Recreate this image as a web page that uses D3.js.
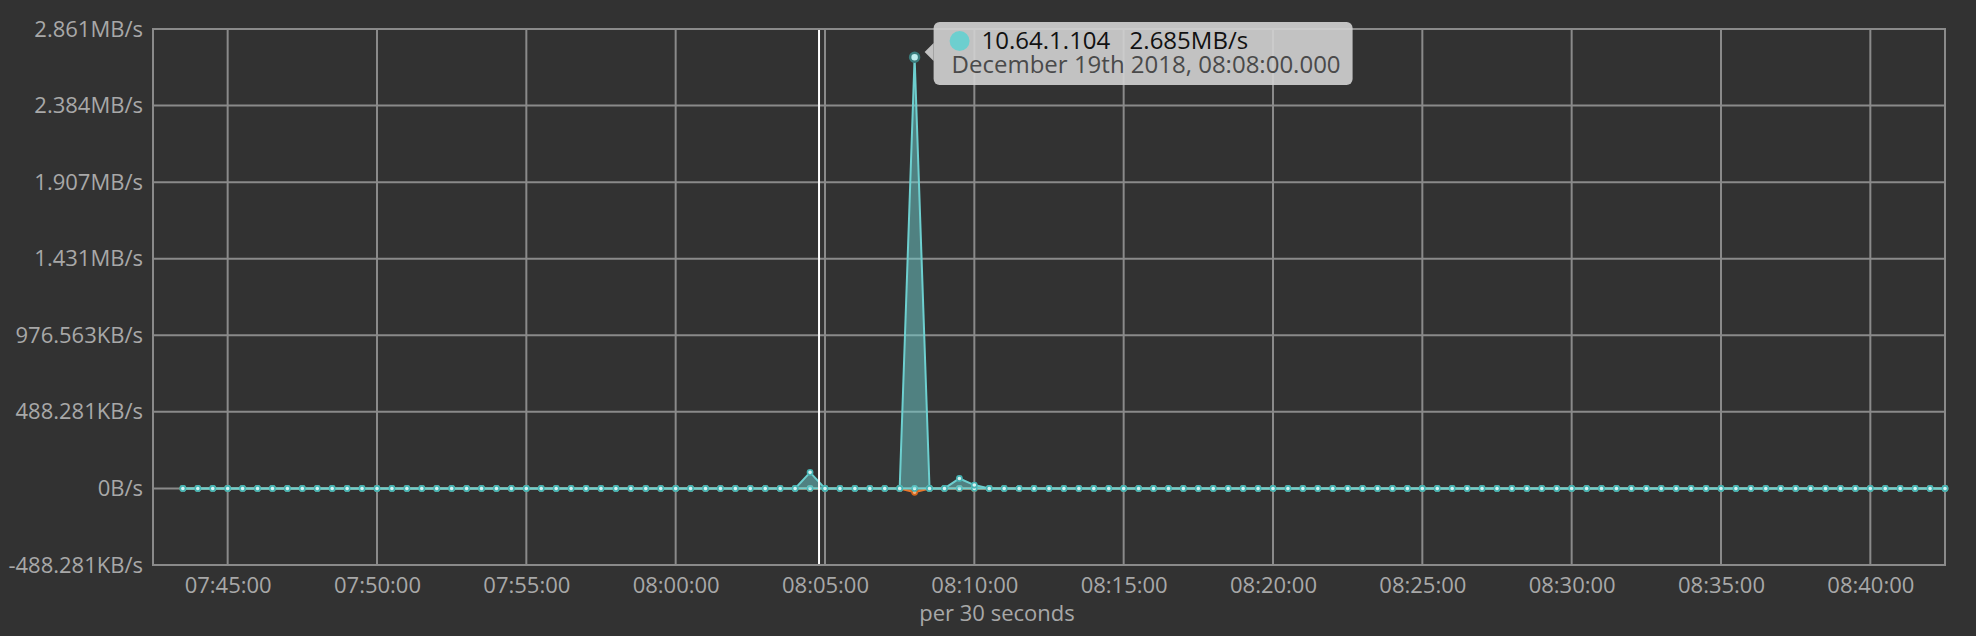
<!DOCTYPE html>
<html>
<head>
<meta charset="utf-8">
<script src="https://cdn.jsdelivr.net/npm/d3@7"></script>
<style>
  html, body { margin: 0; padding: 0; background: #323232; }
  svg { display: block; }
  text { font-family: "Open Sans", sans-serif; }
</style>
</head>
<body>
<div id="chart"></div>
<script>
// Data: one value every 30 seconds, 07:43:30 -> 08:42:30 (bytes per second)
var startTime = "2018-12-19T07:43:30Z";
var endTime = "2018-12-19T08:43:00Z";
var domainTimes = ["2018-12-19T07:42:30Z", "2018-12-19T08:42:30Z"];

var hostName = "10.64.1.104";
var hostValues = [
  0, 0, 0, 0, 0, 0, 0, 0, 0, 0,
  0, 0, 0, 0, 0, 0, 0, 0, 0, 0,
  0, 0, 0, 0, 0, 0, 0, 0, 0, 0,
  0, 0, 0, 0, 0, 0, 0, 0, 0, 0,
  0, 0, 105000, 0, 0, 0, 0, 0, 0, 2815426,
  0, 0, 65000, 22000, 0, 0, 0, 0, 0, 0,
  0, 0, 0, 0, 0, 0, 0, 0, 0, 0,
  0, 0, 0, 0, 0, 0, 0, 0, 0, 0,
  0, 0, 0, 0, 0, 0, 0, 0, 0, 0,
  0, 0, 0, 0, 0, 0, 0, 0, 0, 0,
  0, 0, 0, 0, 0, 0, 0, 0, 0, 0,
  0, 0, 0, 0, 0, 0, 0, 0, 0
];
// second series (same colour, flat)
var baseValues = [
  0, 0, 0, 0, 0, 0, 0, 0, 0, 0,
  0, 0, 0, 0, 0, 0, 0, 0, 0, 0,
  0, 0, 0, 0, 0, 0, 0, 0, 0, 0,
  0, 0, 0, 0, 0, 0, 0, 0, 0, 0,
  0, 0, 0, 0, 0, 0, 0, 0, 0, 0,
  0, 0, 0, 0, 0, 0, 0, 0, 0, 0,
  0, 0, 0, 0, 0, 0, 0, 0, 0, 0,
  0, 0, 0, 0, 0, 0, 0, 0, 0, 0,
  0, 0, 0, 0, 0, 0, 0, 0, 0, 0,
  0, 0, 0, 0, 0, 0, 0, 0, 0, 0,
  0, 0, 0, 0, 0, 0, 0, 0, 0, 0,
  0, 0, 0, 0, 0, 0, 0, 0, 0
];
// orange series, small dip at 08:08
var outValues = [
  0, 0, 0, 0, 0, 0, 0, 0, 0, 0,
  0, 0, 0, 0, 0, 0, 0, 0, 0, 0,
  0, 0, 0, 0, 0, 0, 0, 0, 0, 0,
  0, 0, 0, 0, 0, 0, 0, 0, 0, 0,
  0, 0, 0, 0, 0, 0, 0, 0, 0, -25000,
  0, 0, 0, 0, 0, 0, 0, 0, 0, 0,
  0, 0, 0, 0, 0, 0, 0, 0, 0, 0,
  0, 0, 0, 0, 0, 0, 0, 0, 0, 0,
  0, 0, 0, 0, 0, 0, 0, 0, 0, 0,
  0, 0, 0, 0, 0, 0, 0, 0, 0, 0,
  0, 0, 0, 0, 0, 0, 0, 0, 0, 0,
  0, 0, 0, 0, 0, 0, 0, 0, 0
];

var yTicks = [-500000, 0, 500000, 1000000, 1500000, 2000000, 2500000, 3000000];
var xTickLabels = ["07:45:00", "07:50:00", "07:55:00", "08:00:00", "08:05:00", "08:10:00",
  "08:15:00", "08:20:00", "08:25:00", "08:30:00", "08:35:00", "08:40:00"];

var hoverIndex = 49;
var hoverLabel = "December 19th 2018, 08:08:00.000";
var cursorTime = "2018-12-19T08:04:48Z";

// sizes
var svgWidth = 1976;
var svgHeight = 636;
var margin = { top: 29, right: 31, bottom: 71, left: 153 };
var width = svgWidth - margin.left - margin.right;
var height = svgHeight - margin.top - margin.bottom;

var gridColor = "#8a8a8a";
var textColor = "#a8a8a8";
var cyan = "#6dcfcf";
var orange = "#e8762b";

var times = d3.utcSecond.every(30).range(new Date(startTime), new Date(endTime));

function fmtBytes(v) {
  var a = Math.abs(v);
  var n, unit;
  if (a >= 1048576) { n = v / 1048576; unit = "MB/s"; }
  else if (a >= 1024) { n = v / 1024; unit = "KB/s"; }
  else { n = v; unit = "B/s"; }
  return (+n.toFixed(3)) + unit;
}

var svg = d3.select("#chart")
  .append("svg")
  .attr("width", svgWidth)
  .attr("height", svgHeight);

var chartGroup = svg.append("g")
  .attr("transform", `translate(${margin.left}, ${margin.top})`);

var x = d3.scaleUtc()
  .domain(domainTimes.map(function(d) { return new Date(d); }))
  .range([0, width]);

var y = d3.scaleLinear()
  .domain([-500000, 3000000])
  .range([height, 0]);

var parseTick = d3.utcParse("%Y-%m-%d %H:%M:%S");
var xTicks = xTickLabels.map(function(t) { return parseTick("2018-12-19 " + t); });

// grid
chartGroup.append("g")
  .selectAll("line.h")
  .data(yTicks)
  .enter()
  .append("line")
  .attr("x1", 0)
  .attr("x2", width)
  .attr("y1", d => y(d))
  .attr("y2", d => y(d))
  .attr("stroke", gridColor)
  .attr("stroke-width", 2);

chartGroup.append("g")
  .selectAll("line.v")
  .data(xTicks)
  .enter()
  .append("line")
  .attr("x1", d => x(d))
  .attr("x2", d => x(d))
  .attr("y1", 0)
  .attr("y2", height)
  .attr("stroke", gridColor)
  .attr("stroke-width", 2);

chartGroup.append("rect")
  .attr("width", width)
  .attr("height", height)
  .attr("fill", "none")
  .attr("stroke", gridColor)
  .attr("stroke-width", 2);

// axes
var leftAxis = d3.axisLeft(y).tickValues(yTicks).tickFormat(fmtBytes).tickSize(0).tickPadding(10);
var bottomAxis = d3.axisBottom(x).tickValues(xTicks).tickFormat(d3.utcFormat("%H:%M:%S")).tickSize(0).tickPadding(12);

var yAxisG = chartGroup.append("g").call(leftAxis);
var xAxisG = chartGroup.append("g")
  .attr("transform", `translate(0, ${height})`)
  .call(bottomAxis);

[yAxisG, xAxisG].forEach(function(g) {
  g.select(".domain").remove();
  g.selectAll("text")
    .attr("fill", textColor)
    .style("font-size", "22px")
    .style("font-family", "'Open Sans', sans-serif");
});

chartGroup.append("text")
  .attr("x", 997 - margin.left)
  .attr("y", height + 56)
  .attr("text-anchor", "middle")
  .attr("fill", textColor)
  .style("font-size", "22px")
  .text("per 30 seconds");

// series
function drawSeries(values, color, dotFill, dotStroke) {
  var pts = values.map(function(v, i) { return { t: times[i], v: v }; });
  var area = d3.area()
    .x(d => x(d.t))
    .y0(y(0))
    .y1(d => y(d.v));
  var line = d3.line()
    .x(d => x(d.t))
    .y(d => y(d.v));
  var g = chartGroup.append("g");
  g.append("path")
    .datum(pts)
    .attr("d", area)
    .attr("fill", color)
    .attr("fill-opacity", 0.5);
  g.append("path")
    .datum(pts)
    .attr("d", line)
    .attr("fill", "none")
    .attr("stroke", color)
    .attr("stroke-width", 2);
  g.selectAll("circle")
    .data(pts)
    .enter()
    .append("circle")
    .attr("cx", d => x(d.t))
    .attr("cy", d => y(d.v))
    .attr("r", 2.6)
    .attr("fill", dotFill)
    .attr("stroke", dotStroke)
    .attr("stroke-width", 1.6);
  return g;
}

drawSeries(outValues, orange, "#f3b27f", "#d4651c");
drawSeries(baseValues, cyan, "#d9f3f3", "#45b3b3");
drawSeries(hostValues, cyan, "#d9f3f3", "#45b3b3");

// cursor line
chartGroup.append("line")
  .attr("x1", x(new Date(cursorTime)))
  .attr("x2", x(new Date(cursorTime)))
  .attr("y1", 1)
  .attr("y2", height - 1)
  .attr("stroke", "#ffffff")
  .attr("stroke-width", 2);

// hovered point
var hx = x(times[hoverIndex]);
var hy = y(hostValues[hoverIndex]);
chartGroup.append("circle")
  .attr("cx", hx)
  .attr("cy", hy)
  .attr("r", 4.5)
  .attr("fill", "#bfeeee")
  .attr("stroke", "#3a7c7c")
  .attr("stroke-width", 2.5);

// tooltip
var tip = svg.append("g")
  .attr("transform", `translate(${margin.left + hx + 19}, 22)`);

tip.append("path")
  .attr("d", "M0,21 L-9,30 L0,39 Z")
  .attr("fill", "#d2d2d2")
  .attr("fill-opacity", 0.9);

tip.append("rect")
  .attr("width", 419)
  .attr("height", 63)
  .attr("rx", 6)
  .attr("fill", "#d2d2d2")
  .attr("fill-opacity", 0.9);

tip.append("circle")
  .attr("cx", 26)
  .attr("cy", 19)
  .attr("r", 10)
  .attr("fill", cyan);

// one text element, three runs
var tipText = tip.append("text")
  .style("font-size", "24px");

tipText.append("tspan")
  .attr("x", 48)
  .attr("y", 27)
  .attr("fill", "#111")
  .text(hostName);

tipText.append("tspan")
  .attr("x", 196)
  .attr("y", 27)
  .attr("fill", "#111")
  .text(fmtBytes(hostValues[hoverIndex]));

tipText.append("tspan")
  .attr("x", 18)
  .attr("y", 51)
  .attr("fill", "#4a4a4a")
  .text(hoverLabel);
</script>
</body>
</html>
